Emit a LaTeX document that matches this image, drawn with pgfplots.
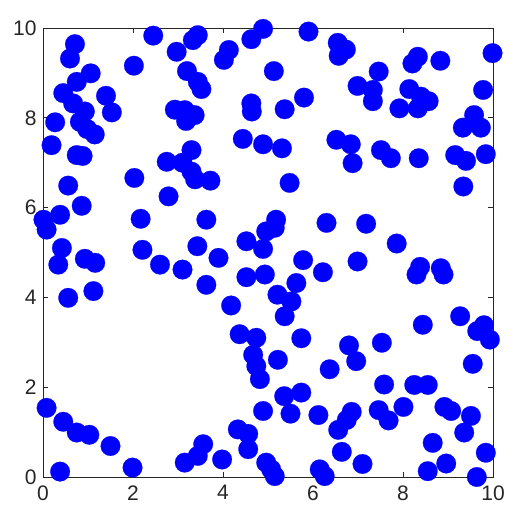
\documentclass[border=0pt]{standalone}
\usepackage{pgfplots}
\pgfplotsset{compat=1.18}
\usepackage{fontspec}
\setmainfont{Liberation Sans}
\definecolor{axgray}{RGB}{38,38,38}

\begin{document}
\begin{tikzpicture}
\useasboundingbox (-43pt,-36pt) rectangle (479pt,477pt);
\begin{axis}[
	scale only axis,
	width=450pt, height=449pt,
	xmin=0, xmax=10, ymin=0, ymax=10,
	xtick={0,2,...,10}, ytick={0,2,...,10},
	tick align=inside,
	major tick length=5pt,
	axis line style={axgray, line width=0.6pt},
	tick style={axgray, line width=0.6pt},
	ticklabel style={font=\fontsize{21}{21}\selectfont, text=axgray},
	xticklabel style={yshift=-5pt},
	yticklabel style={xshift=-3pt},
	/pgf/number format/assume math mode=true,
	clip=false,
	]
	\addplot[only marks, mark=*, mark size=9.8pt, color=blue, mark options={fill=blue, draw=blue, line width=0.2pt}]
	table {
x y
0.71 9.64
0.60 9.32
2.45 9.83
2.02 9.16
2.97 9.47
3.33 9.73
3.44 9.84
3.20 9.04
1.06 8.99
0.75 8.80
0.45 8.55
0.67 8.32
1.40 8.49
1.53 8.12
0.93 8.14
0.82 7.91
0.98 7.75
1.15 7.63
0.27 7.90
0.19 7.39
0.75 7.17
0.88 7.15
2.03 6.66
2.75 7.02
2.93 8.18
3.15 8.17
3.37 8.06
3.18 7.93
3.30 7.28
3.10 7.00
3.30 6.80
3.38 6.63
3.72 6.60
4.89 9.98
4.63 9.75
5.90 9.92
6.55 9.67
6.57 9.38
4.13 9.51
4.02 9.29
5.13 9.04
3.44 8.80
3.52 8.64
4.63 8.32
4.64 8.14
5.37 8.19
5.80 8.45
4.44 7.53
4.89 7.41
5.31 7.32
6.52 7.51
5.48 6.55
6.73 9.52
9.99 9.44
8.33 9.36
8.21 9.21
8.83 9.27
7.46 9.03
6.99 8.71
7.33 8.62
7.33 8.37
8.14 8.64
8.40 8.47
8.57 8.37
8.33 8.21
7.92 8.21
9.78 8.62
9.58 8.06
9.33 7.78
9.73 7.78
6.84 7.41
6.88 6.99
7.51 7.28
7.73 7.10
8.35 7.10
9.16 7.17
9.40 7.04
9.84 7.19
9.34 6.47
0.56 6.49
0.86 6.04
0.38 5.84
0.01 5.73
0.08 5.51
2.79 6.25
2.17 5.75
0.42 5.10
0.34 4.73
0.93 4.86
1.16 4.77
2.21 5.06
2.60 4.73
3.10 4.62
0.56 3.99
1.12 4.14
3.43 5.14
3.63 5.73
5.18 5.73
4.96 5.47
5.15 5.55
4.52 5.25
4.89 5.08
6.30 5.66
3.90 4.88
5.78 4.83
4.52 4.45
4.93 4.51
6.22 4.56
3.63 4.28
5.63 4.32
5.21 4.06
5.52 3.91
5.37 3.58
4.18 3.82
7.18 5.64
7.86 5.20
6.99 4.80
8.38 4.68
8.30 4.51
8.84 4.65
8.90 4.51
9.27 3.58
8.44 3.39
9.80 3.38
9.65 3.25
9.93 3.06
4.37 3.18
4.74 3.10
5.74 3.09
6.80 2.93
6.96 2.58
7.53 2.99
9.55 2.52
7.58 2.06
8.25 2.05
8.55 2.05
6.86 1.45
6.75 1.27
7.46 1.49
7.68 1.26
8.01 1.56
8.92 1.56
9.07 1.47
9.51 1.36
9.36 0.99
7.10 0.29
8.66 0.76
8.55 0.13
8.96 0.30
9.84 0.54
9.64 0.00
4.67 2.72
4.74 2.47
4.82 2.18
5.22 2.61
6.37 2.40
5.36 1.80
5.74 1.88
5.50 1.41
4.89 1.47
6.12 1.38
4.33 1.06
4.56 0.96
4.56 0.62
3.56 0.73
3.44 0.47
3.15 0.32
3.98 0.39
4.96 0.32
5.07 0.17
5.15 0.02
6.15 0.17
6.26 0.02
6.56 1.05
6.64 0.56
0.08 1.54
0.45 1.23
0.75 0.99
1.03 0.94
1.50 0.69
0.38 0.12
1.99 0.21
	};
\end{axis}
\end{tikzpicture}
\end{document}
